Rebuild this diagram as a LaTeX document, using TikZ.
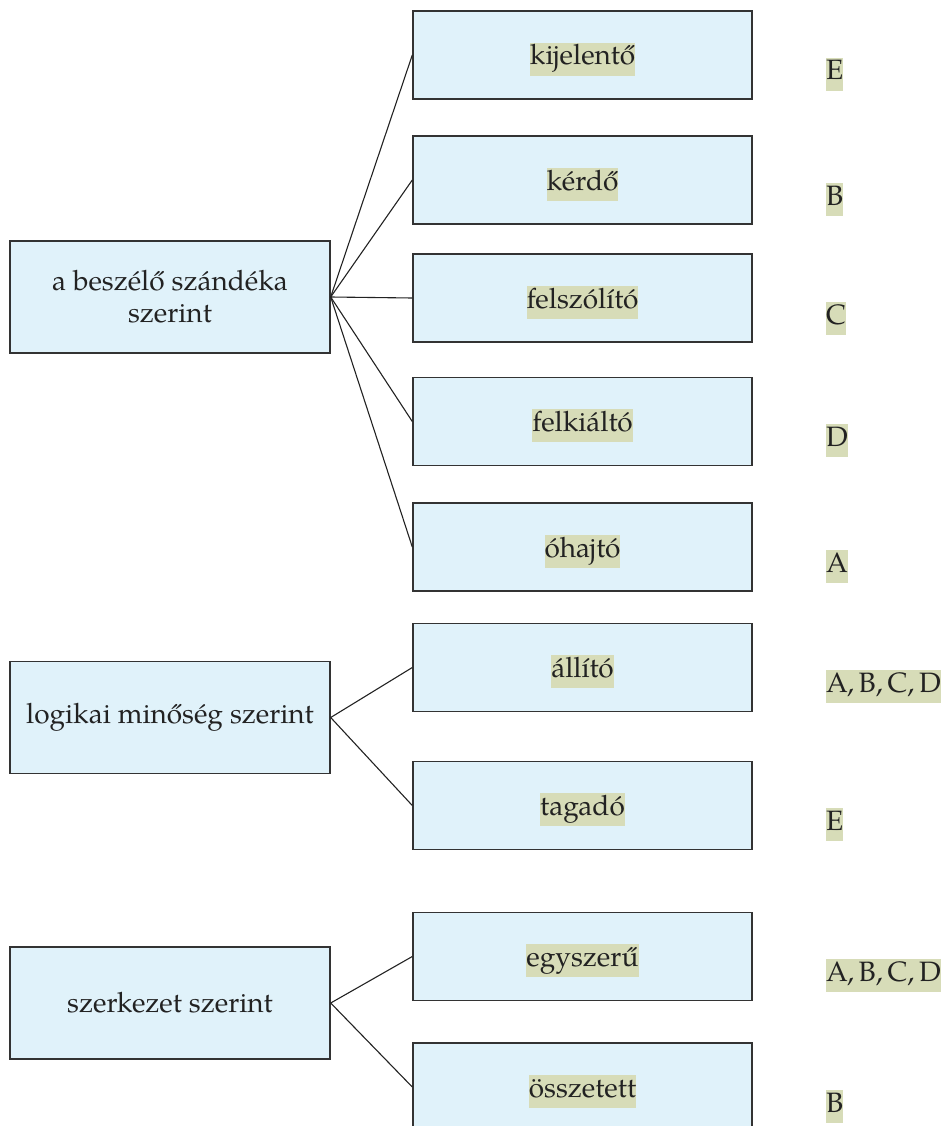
\documentclass[tikz,border=0pt]{standalone}
\usepackage{fontspec}
\setmainfont{TeX Gyre Pagella}
\newcommand\figfont{\fontsize{28}{32}\selectfont}
\newcommand\tightsp{\hspace{-0.08em}}
\definecolor{boxfill}{HTML}{E0F2FA}
\definecolor{hlfill}{HTML}{D7DCB8}
\definecolor{boxline}{HTML}{333333}
\definecolor{linecol}{HTML}{222222}
\definecolor{txt}{HTML}{222222}
\begin{document}
\begin{tikzpicture}[x=1pt,y=-1pt,
  box/.style={draw=boxline, line width=1.4pt, fill=boxfill, minimum width=339pt, minimum height=88pt, inner sep=0pt},
  cat/.style={draw=boxline, line width=1.4pt, fill=boxfill, minimum width=320pt, minimum height=112pt, align=center, inner sep=0pt, font=\figfont, text=txt},
  hl/.style={fill=hlfill, inner xsep=0pt, inner ysep=0pt, text height=22.3pt, text depth=10.7pt, anchor=base, font=\figfont, text=txt},
  ans/.style={hl, anchor=base west},
  link/.style={draw=linecol, line width=1.1pt}
]
\path[use as bounding box] (0,0) rectangle (943,1126);
\clip (0,0) rectangle (943,1126);

% category boxes
\node[cat] (c1) at (170,297) {a beszélő szándéka\\szerint};
\node[cat] (c2) at (170,717.5) {logikai minőség szerint};
\node[cat] (c3) at (170,1003) {szerkezet szerint};

% right boxes
\node[box] (k1) at (582.5,55) {};
\node[box] (k2) at (582.5,180) {};
\node[box] (k3) at (582.5,298) {};
\node[box] (k4) at (582.5,421.5) {};
\node[box] (k5) at (582.5,547) {};
\node[box] (k6) at (582.5,667.5) {};
\node[box] (k7) at (582.5,805.5) {};
\node[box] (k8) at (582.5,956.5) {};
\node[box] (k9) at (582.5,1087) {};

% labels
\node[hl] (t1) at ([yshift=-10pt]k1.center) {kijelentő};
\node[hl] (t2) at ([yshift=-10pt]k2.center) {kérdő};
\node[hl] (t3) at ([yshift=-10pt]k3.center) {felszólító};
\node[hl] (t4) at ([yshift=-10pt]k4.center) {felkiáltó};
\node[hl] (t5) at ([yshift=-10pt]k5.center) {óhajtó};
\node[hl] (t6) at ([yshift=-10pt]k6.center) {állító};
\node[hl] (t7) at ([yshift=-10pt]k7.center) {tagadó};
\node[hl] (t8) at ([yshift=-10pt]k8.center) {egyszerű};
\node[hl] (t9) at ([yshift=-10pt]k9.center) {összetett};

% answers
\node[ans] (a1) at (826,80) {E};
\node[ans] (a2) at (826,205) {B};
\node[ans] (a3) at (826,324) {C};
\node[ans] (a4) at (826,446.5) {D};
\node[ans] (a5) at (826,572) {A};
\node[ans] (a6) at (826,692.5) {A,\tightsp{} B,\tightsp{} C,\tightsp{} D};
\node[ans] (a7) at (826,830.5) {E};
\node[ans] (a8) at (826,981.5) {A,\tightsp{} B,\tightsp{} C,\tightsp{} D};
\node[ans] (a9) at (826,1112) {B};

% connectors
\foreach \k in {k1,k2,k3,k4,k5} \draw[link] (c1.east) -- (\k.west);
\foreach \k in {k6,k7} \draw[link] (c2.east) -- (\k.west);
\foreach \k in {k8,k9} \draw[link] (c3.east) -- (\k.west);
\end{tikzpicture}
\end{document}
